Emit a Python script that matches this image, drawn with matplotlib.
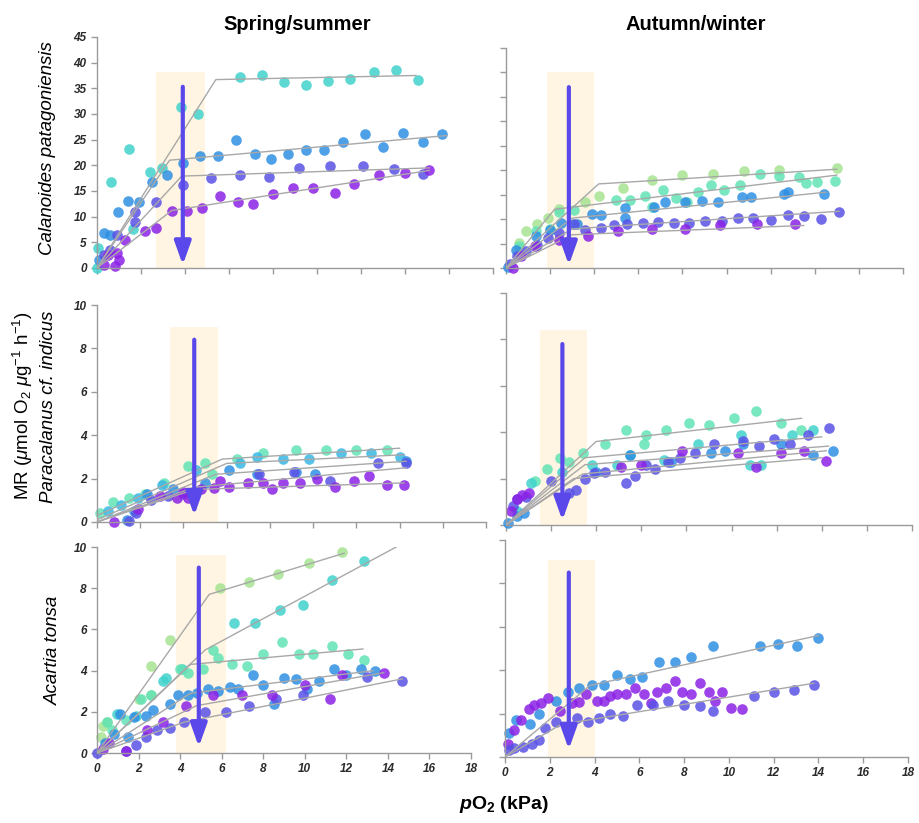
import matplotlib.pyplot as plt
from matplotlib.patches import Rectangle

plt.rcParams['font.family'] = ['Liberation Sans', 'DejaVu Sans']
plt.rcParams['mathtext.fontset'] = 'custom'
plt.rcParams['mathtext.rm'] = 'Liberation Sans'
plt.rcParams['mathtext.it'] = 'Liberation Sans:italic'
plt.rcParams['mathtext.bf'] = 'Liberation Sans:bold'

# colours of the temperature series
PURPLE = '#8B22E6'
VIOLET = '#5A52E6'
BLUE = '#2F8FE3'
CYAN = '#3AB8E3'
TURQ = '#40D2CC'
AQUA = '#62E3B5'
GREEN = '#A6E392'
SHADE = '#FFF5E2'
ARROW = '#5A48EA'
FITLINE = '#A8A8A8'

# ---- Calanoides patagoniensis, spring/summer ----
cp_ss_turq_x = [0, 0.06, 0.62, 1.47, 1.65, 2.4, 2.97, 3.8, 4.6, 6.5, 7.5, 8.5, 9.5, 10.5, 11.5, 12.6, 13.6, 14.6]
cp_ss_turq_y = [0, 3.9, 16.8, 23.2, 7.6, 18.7, 19.4, 31.4, 30.0, 37.2, 37.5, 36.2, 35.7, 36.5, 36.9, 38.2, 38.6, 36.6]
cp_ss_turq_fit = [(0, 0), (5.4, 36.7), (14.5, 37.5)]
cp_ss_blue_x = [0.1, 0.32, 0.6, 0.97, 1.42, 1.92, 2.5, 3.2, 3.9, 4.7, 5.5, 6.3, 7.2, 7.9, 8.7, 9.5, 10.3, 11.2, 12.2, 13.0, 13.9, 14.8, 15.7]
cp_ss_blue_y = [1.5, 6.8, 6.5, 10.9, 13.1, 12.9, 16.7, 18.1, 20.5, 21.8, 21.9, 24.9, 22.3, 21.3, 22.3, 22.9, 22.9, 24.5, 26.2, 23.6, 26.3, 24.5, 26.1]
cp_ss_blue_fit = [(0, 0), (3.3, 21.0), (15.9, 25.8)]
cp_ss_violet_x = [0.3, 0.6, 0.9, 1.73, 1.73, 2.7, 3.9, 5.2, 6.5, 7.8, 9.2, 10.6, 12.1, 13.5, 14.8]
cp_ss_violet_y = [2.5, 3.5, 6.4, 8.9, 11.0, 12.9, 16.2, 17.5, 18.1, 17.7, 19.4, 19.8, 19.8, 19.2, 18.4]
cp_ss_violet_fit = [(0, 0), (3.85, 17.9), (15.1, 19.5)]
cp_ss_purple_x = [0.3, 0.5, 0.8, 0.9, 1.0, 1.27, 2.2, 2.7, 3.4, 4.1, 4.75, 5.6, 6.4, 7.1, 8.0, 8.9, 9.8, 10.8, 11.7, 12.8, 14.0, 15.1]
cp_ss_purple_y = [0.5, 2.5, 0.3, 3.0, 1.5, 5.4, 7.3, 7.8, 11.2, 11.2, 11.6, 14.0, 12.8, 12.5, 14.4, 15.5, 15.5, 14.6, 16.4, 18.1, 18.5, 19.0]
cp_ss_purple_fit = [(0, 0), (3.4, 11.2), (15.1, 19.0)]

# ---- Calanoides patagoniensis, autumn/winter ----
cp_aw_green_x = [0.6, 0.9, 1.4, 1.9, 2.4, 3.6, 4.2, 5.3, 6.6, 8.0, 9.4, 10.8, 12.4, 15.0]
cp_aw_green_y = [5.2, 7.5, 9.1, 10.2, 12.1, 13.6, 14.7, 16.4, 17.9, 19.0, 19.3, 19.8, 20.1, 20.4]
cp_aw_green_fit = [(0, 0), (4.2, 17.2), (15.0, 20.2)]
cp_aw_aqua_x = [0.6, 1.35, 2.0, 2.4, 3.0, 3.1, 5.0, 5.6, 6.3, 6.6, 7.1, 7.7, 8.2, 8.7, 9.3, 9.9, 10.6, 11.5, 12.4, 13.3, 13.6, 14.1, 14.9]
cp_aw_aqua_y = [4.6, 7.5, 8.0, 11.5, 8.9, 11.9, 14.0, 14.0, 14.7, 12.5, 16.0, 14.3, 13.4, 15.5, 17.0, 15.9, 17.0, 19.3, 18.8, 18.7, 17.4, 17.5, 17.7]
cp_aw_aqua_fit = [(0, 0), (2.2, 12.0), (15.0, 19.0)]
cp_aw_blue_x = [0.1, 0.45, 1.35, 2.0, 2.5, 3.2, 3.9, 4.3, 5.4, 5.4, 6.7, 7.2, 8.1, 8.9, 9.6, 10.7, 11.1, 12.6, 12.8, 14.4]
cp_aw_blue_y = [0.3, 3.7, 6.6, 7.8, 9.3, 9.1, 11.1, 10.9, 12.3, 10.2, 12.4, 13.6, 13.6, 13.7, 13.4, 14.5, 14.6, 15.2, 15.5, 15.1]
cp_aw_blue_fit = [(0, 0), (3.0, 10.2), (14.5, 15.5)]
cp_aw_violet_x = [0.2, 0.5, 0.9, 1.4, 1.9, 2.4, 3.1, 3.6, 4.3, 4.9, 5.5, 6.2, 6.9, 7.6, 8.3, 9.0, 9.8, 10.5, 11.2, 12.0, 12.8, 13.5, 14.3, 15.1]
cp_aw_violet_y = [0.8, 2.4, 3.4, 4.8, 6.1, 7.2, 8.9, 7.8, 8.2, 8.7, 8.9, 9.3, 9.5, 9.3, 9.3, 9.7, 9.7, 10.2, 10.2, 9.9, 10.9, 10.6, 10.1, 11.4]
cp_aw_violet_fit = [(0, 0), (3.0, 8.0), (15.1, 11.6)]
cp_aw_purple_x = [0.3, 0.7, 1.3, 2.4, 3.7, 5.1, 6.6, 8.1, 9.7, 11.4, 13.1]
cp_aw_purple_y = [0.0, 2.4, 4.4, 5.7, 6.6, 7.5, 8.0, 8.0, 8.7, 9.0, 8.9]
cp_aw_purple_fit = [(0, 0), (3.0, 6.8), (13.5, 8.7)]

# ---- Paracalanus cf. indicus, spring/summer ----
pi_ss_aqua_x = [0.14, 0.76, 1.5, 2.2, 3.1, 4.2, 5.0, 5.3, 6.5, 7.7, 9.2, 10.6, 12.0, 13.4]
pi_ss_aqua_y = [0.4, 0.94, 1.1, 1.3, 1.8, 2.6, 2.7, 2.2, 2.9, 3.2, 3.3, 3.3, 3.3, 3.3]
pi_ss_aqua_fit = [(0, 0.3), (5.8, 2.9), (14.0, 3.4)]
pi_ss_cyan_x = [0.5, 1.1, 1.9, 3.0, 4.6, 6.6, 7.4, 8.6, 9.8, 11.3, 12.7, 14.0]
pi_ss_cyan_y = [0.5, 0.8, 1.1, 1.7, 2.4, 2.7, 3.0, 2.9, 2.9, 3.2, 3.2, 3.0]
pi_ss_cyan_fit = [(0, 0.1), (6.0, 2.7), (14.2, 3.1)]
pi_ss_blue_x = [1.4, 1.7, 2.3, 3.5, 5.0, 6.1, 7.4, 9.2, 10.1, 14.3]
pi_ss_blue_y = [0.1, 0.5, 1.3, 1.5, 1.8, 2.4, 2.2, 2.3, 2.2, 2.8]
pi_ss_blue_fit = [(0, 0), (5.5, 2.2), (14.3, 2.8)]
pi_ss_violet_x = [1.5, 1.8, 2.5, 3.3, 4.0, 7.5, 9.1, 10.8, 13.0, 14.3]
pi_ss_violet_y = [0.05, 0.4, 1.0, 1.2, 1.3, 2.2, 2.3, 1.9, 2.7, 2.7]
pi_ss_violet_fit = [(0, 0), (4.5, 1.6), (14.3, 2.5)]
pi_ss_purple_x = [0.8, 1.9, 2.9, 3.7, 4.0, 4.2, 4.8, 5.4, 5.7, 6.1, 7.0, 7.7, 8.1, 8.6, 9.4, 10.2, 11.0, 11.9, 12.6, 13.4, 14.2]
pi_ss_purple_y = [0.0, 0.6, 1.2, 1.1, 1.4, 1.1, 1.5, 1.55, 1.9, 1.6, 1.8, 1.8, 1.5, 1.8, 1.8, 2.0, 1.6, 1.9, 2.1, 1.7, 1.7]
pi_ss_purple_fit = [(0, 0), (4.5, 1.5), (14.2, 1.8)]

# ---- Paracalanus cf. indicus, autumn/winter ----
pi_aw_aqua_x = [1.3, 1.8, 2.4, 2.8, 3.4, 4.4, 5.3, 6.1, 6.2, 7.1, 8.1, 9.0, 10.1, 11.1, 12.2, 13.1]
pi_aw_aqua_y = [1.9, 2.4, 2.9, 2.7, 3.1, 3.5, 4.1, 3.5, 3.9, 4.1, 4.4, 4.3, 4.6, 4.9, 4.4, 4.1]
pi_aw_aqua_fit = [(0, 0), (4.0, 3.6), (13.1, 4.6)]
pi_aw_turq_x = [0.5, 1.1, 2.5, 3.8, 4.9, 5.5, 7.0, 8.5, 10.4, 10.8, 11.3, 12.7, 13.6]
pi_aw_turq_y = [0.6, 1.8, 2.3, 2.6, 2.6, 3.0, 2.8, 3.5, 3.9, 2.6, 2.6, 3.9, 4.1]
pi_aw_turq_fit = [(0, 0), (3.5, 2.9), (14.0, 3.8)]
pi_aw_blue_x = [0.1, 0.5, 0.8, 4.0, 5.5, 7.3, 9.1, 9.7, 10.5, 12.2, 13.6, 14.5]
pi_aw_blue_y = [0.1, 0.4, 0.5, 2.3, 3.0, 2.7, 3.1, 3.2, 3.5, 3.5, 3.0, 3.2]
pi_aw_blue_fit = [(0, 0), (3.5, 2.6), (14.3, 3.4)]
pi_aw_violet_x = [0.3, 0.5, 0.9, 2.0, 2.8, 3.1, 3.5, 3.9, 4.4, 5.3, 5.7, 6.2, 6.6, 7.2, 7.7, 8.4, 9.2, 10.5, 11.2, 11.9, 12.6, 13.4, 14.3]
pi_aw_violet_y = [0.8, 1.1, 1.2, 1.9, 1.4, 1.5, 2.0, 2.25, 2.3, 1.8, 2.1, 2.6, 2.4, 2.7, 2.9, 3.1, 3.5, 3.6, 3.4, 3.7, 3.5, 3.9, 4.2]
pi_aw_violet_fit = [(0, 0), (3.4, 2.2), (14.2, 3.2)]
pi_aw_purple_x = [0.2, 0.5, 0.7, 1.0, 5.1, 6.0, 7.8, 10.3, 11.1, 12.2, 13.2, 14.2]
pi_aw_purple_y = [0.6, 1.1, 1.3, 1.4, 2.5, 2.6, 3.2, 3.1, 2.5, 3.1, 3.2, 2.75]
pi_aw_purple_fit = [(0, 0), (3.0, 2.0), (14.0, 2.9)]

# ---- Acartia tonsa, spring/summer ----
at_ss_green_x = [0.2, 0.3, 0.46, 2.0, 2.6, 2.6, 3.5, 5.9, 7.3, 8.7, 10.2, 11.8]
at_ss_green_y = [0.8, 1.3, 1.5, 2.6, 2.8, 4.2, 5.5, 8.0, 8.3, 8.7, 9.2, 9.76]
at_ss_green_fit = [(0, 0), (5.4, 7.7), (11.9, 9.7)]
at_ss_turq_x = [0.95, 1.9, 3.2, 3.3, 4.1, 6.6, 7.6, 8.8, 9.9, 11.3, 12.85]
at_ss_turq_y = [1.9, 1.8, 3.5, 3.65, 4.1, 6.3, 6.3, 6.95, 7.2, 8.4, 9.3]
at_ss_turq_fit = [(0, 0), (5.2, 5.0), (14.4, 10.0)]
at_ss_aqua_x = [0.5, 0.7, 1.4, 2.1, 2.6, 4.0, 4.4, 5.1, 5.6, 5.8, 6.5, 7.2, 8.0, 8.9, 9.7, 10.4, 11.3, 12.1, 12.85]
at_ss_aqua_y = [1.5, 1.1, 1.6, 2.6, 2.8, 4.1, 3.9, 4.1, 5.0, 4.6, 4.3, 4.2, 4.8, 5.4, 4.8, 4.8, 5.2, 4.8, 4.5]
at_ss_aqua_fit = [(0, 0), (4.5, 4.3), (12.8, 5.05)]
at_ss_blue_x = [0.4, 0.8, 1.1, 1.5, 1.8, 2.35, 2.7, 3.5, 3.9, 4.4, 4.8, 5.35, 5.8, 6.4, 6.8, 7.5, 8.0, 8.5, 9.0, 9.6, 10.1, 10.7, 11.4, 12.0, 12.7, 13.4]
at_ss_blue_y = [0.5, 0.9, 1.9, 0.8, 1.75, 1.8, 2.1, 2.4, 2.8, 2.8, 2.9, 3.1, 3.0, 3.2, 3.1, 3.8, 3.3, 2.4, 3.65, 3.6, 3.1, 3.5, 4.1, 3.8, 4.1, 4.0]
at_ss_blue_fit = [(0, 0), (4.5, 2.9), (13.3, 4.0)]
at_ss_violet_x = [0.0, 1.4, 1.9, 2.35, 2.9, 3.5, 4.2, 5.2, 6.2, 7.3, 8.6, 9.9, 13.0, 14.7]
at_ss_violet_y = [0.0, 0.1, 0.4, 0.8, 1.1, 1.2, 1.5, 2.0, 2.0, 2.3, 2.6, 2.8, 3.7, 3.5]
at_ss_violet_fit = [(0, 0), (4.2, 1.5), (14.7, 3.6)]
at_ss_purple_x = [0.3, 0.6, 1.4, 2.4, 3.2, 4.3, 5.6, 7.0, 8.4, 10.0, 11.2, 11.8, 13.8]
at_ss_purple_y = [0.2, 0.5, 0.1, 1.1, 1.5, 2.3, 2.8, 2.8, 2.8, 3.3, 2.6, 3.8, 3.9]
at_ss_purple_fit = [(0, 0), (4.8, 2.3), (13.8, 3.9)]

# ---- Acartia tonsa, autumn/winter ----
at_aw_blue_x = [0.2, 0.5, 1.1, 1.5, 2.3, 2.8, 3.3, 3.9, 4.4, 5.0, 5.6, 6.1, 6.9, 7.6, 8.3, 9.3, 11.4, 12.2, 13.05, 14.0]
at_aw_blue_y = [1.1, 1.7, 1.5, 2.0, 2.6, 3.0, 3.2, 3.3, 3.3, 3.8, 3.6, 3.7, 4.4, 4.4, 4.6, 5.1, 5.1, 5.2, 5.1, 5.5]
at_aw_blue_fit = [(0, 0), (3.8, 3.3), (14.0, 5.6)]
at_aw_purple_x = [0.15, 0.4, 0.7, 1.05, 1.3, 1.6, 1.9, 2.45, 3.0, 3.3, 3.6, 4.1, 4.4, 4.7, 5.0, 5.4, 5.8, 6.2, 6.5, 6.8, 7.2, 7.6, 7.9, 8.3, 8.7, 9.1, 9.4, 9.7, 10.1, 10.6]
at_aw_purple_y = [0.6, 1.25, 1.7, 2.2, 2.4, 2.5, 2.7, 2.1, 2.5, 2.55, 2.9, 2.6, 2.6, 2.8, 2.9, 2.9, 3.2, 2.9, 2.5, 3.0, 3.2, 3.5, 3.0, 2.9, 3.4, 3.0, 2.6, 3.0, 2.25, 2.2]
at_aw_violet_x = [0.2, 0.4, 0.8, 1.2, 1.5, 1.8, 2.3, 3.2, 3.7, 4.2, 4.7, 5.25, 5.9, 6.6, 7.3, 8.0, 8.7, 9.3, 11.1, 12.0, 12.9, 13.8]
at_aw_violet_y = [0.3, 0.4, 0.45, 0.6, 0.8, 1.35, 1.6, 1.8, 1.6, 1.8, 2.0, 1.9, 2.4, 2.4, 2.6, 2.4, 2.35, 2.1, 2.8, 3.0, 3.1, 3.3]
at_aw_violet_fit = [(0, 0), (2.5, 1.5), (13.8, 3.4)]

# shaded band (x from, x to, top) and arrow (x, top, tip) per panel
cp_ss_band, cp_ss_arrow = (2.7, 4.9, 38.2), (3.9, 35.3, 0.6)
cp_aw_band, cp_aw_arrow = (1.85, 4.0, 40.0), (2.85, 37.0, 0.6)
pi_ss_band, pi_ss_arrow = (3.4, 5.6, 9.0), (4.5, 8.4, 0.3)
pi_aw_band, pi_aw_arrow = (1.5, 3.6, 8.4), (2.5, 7.8, 0.2)
at_ss_band, at_ss_arrow = (3.8, 6.2, 9.6), (4.9, 9.0, 0.3)
at_aw_band, at_aw_arrow = (1.9, 4.0, 9.1), (2.85, 8.5, 0.35)

W, H = 919, 823
fig = plt.figure(figsize=(W / 100, H / 100), dpi=100)


def panel(box, ymax, ystep, series, band, arrow, ylabels, xlabels):
    l, t, r, b = box
    ax = fig.add_axes([l / W, 1 - b / H, (r - l) / W, (b - t) / H])
    ax.set_xlim(0, 18)
    ax.set_ylim(0, ymax)
    ax.add_patch(Rectangle((band[0], 0), band[1] - band[0], band[2],
                           color=SHADE, lw=0, zorder=0))
    for x, y, c, fit in series:
        ax.scatter(x, y, s=58, color=c, alpha=0.85, lw=0, zorder=2, clip_on=False)
        if fit:
            fx, fy = zip(*fit)
            ax.plot(fx, fy, color=FITLINE, lw=1, zorder=3)
    ax.annotate('', xy=(arrow[0], arrow[2]), xytext=(arrow[0], arrow[1]),
                arrowprops=dict(arrowstyle='-|>,head_width=0.25,head_length=0.7',
                                color=ARROW, lw=3, mutation_scale=20,
                                shrinkA=0, shrinkB=0), zorder=4)
    ax.set_xticks(range(0, 19, 2))
    ax.set_yticks([v * ystep for v in range(int(ymax / ystep) + 1)])
    for s in ['top', 'right']:
        ax.spines[s].set_visible(False)
    for s in ['left', 'bottom']:
        ax.spines[s].set_color('#9A9A9A')
        ax.spines[s].set_linewidth(1)
    ax.tick_params(color='#9A9A9A', length=4, width=1, labelsize=8.5,
                   labelcolor='#2A2A2A', labelleft=ylabels, labelbottom=xlabels)
    for lab in ax.get_xticklabels() + ax.get_yticklabels():
        lab.set_fontweight('bold')
        lab.set_fontstyle('italic')
    ax.set_facecolor('none')
    return ax


panel((97, 37, 493, 268), 45, 5, [
    (cp_ss_turq_x, cp_ss_turq_y, TURQ, cp_ss_turq_fit),
    (cp_ss_blue_x, cp_ss_blue_y, BLUE, cp_ss_blue_fit),
    (cp_ss_violet_x, cp_ss_violet_y, VIOLET, cp_ss_violet_fit),
    (cp_ss_purple_x, cp_ss_purple_y, PURPLE, cp_ss_purple_fit),
], cp_ss_band, cp_ss_arrow, True, False)

panel((506, 48, 903, 268), 45, 5, [
    (cp_aw_green_x, cp_aw_green_y, GREEN, cp_aw_green_fit),
    (cp_aw_aqua_x, cp_aw_aqua_y, AQUA, cp_aw_aqua_fit),
    (cp_aw_blue_x, cp_aw_blue_y, BLUE, cp_aw_blue_fit),
    (cp_aw_violet_x, cp_aw_violet_y, VIOLET, cp_aw_violet_fit),
    (cp_aw_purple_x, cp_aw_purple_y, PURPLE, cp_aw_purple_fit),
], cp_aw_band, cp_aw_arrow, False, False)

panel((97, 305, 486, 522), 10, 2, [
    (pi_ss_aqua_x, pi_ss_aqua_y, AQUA, pi_ss_aqua_fit),
    (pi_ss_cyan_x, pi_ss_cyan_y, CYAN, pi_ss_cyan_fit),
    (pi_ss_blue_x, pi_ss_blue_y, BLUE, pi_ss_blue_fit),
    (pi_ss_violet_x, pi_ss_violet_y, VIOLET, pi_ss_violet_fit),
    (pi_ss_purple_x, pi_ss_purple_y, PURPLE, pi_ss_purple_fit),
], pi_ss_band, pi_ss_arrow, True, False)

panel((506, 293, 912, 525), 10, 2, [
    (pi_aw_aqua_x, pi_aw_aqua_y, AQUA, pi_aw_aqua_fit),
    (pi_aw_turq_x, pi_aw_turq_y, TURQ, pi_aw_turq_fit),
    (pi_aw_blue_x, pi_aw_blue_y, BLUE, pi_aw_blue_fit),
    (pi_aw_violet_x, pi_aw_violet_y, VIOLET, pi_aw_violet_fit),
    (pi_aw_purple_x, pi_aw_purple_y, PURPLE, pi_aw_purple_fit),
], pi_aw_band, pi_aw_arrow, False, False)

panel((97, 547, 471, 753), 10, 2, [
    (at_ss_green_x, at_ss_green_y, GREEN, at_ss_green_fit),
    (at_ss_turq_x, at_ss_turq_y, TURQ, at_ss_turq_fit),
    (at_ss_aqua_x, at_ss_aqua_y, AQUA, at_ss_aqua_fit),
    (at_ss_blue_x, at_ss_blue_y, BLUE, at_ss_blue_fit),
    (at_ss_violet_x, at_ss_violet_y, VIOLET, at_ss_violet_fit),
    (at_ss_purple_x, at_ss_purple_y, PURPLE, at_ss_purple_fit),
], at_ss_band, at_ss_arrow, True, True)

panel((505, 540, 908, 757), 10, 2, [
    (at_aw_blue_x, at_aw_blue_y, BLUE, at_aw_blue_fit),
    (at_aw_purple_x, at_aw_purple_y, PURPLE, None),
    (at_aw_violet_x, at_aw_violet_y, VIOLET, at_aw_violet_fit),
], at_aw_band, at_aw_arrow, False, True)

# titles and axis labels
fig.text(297 / W, 1 - 24 / H, 'Spring/summer', ha='center', va='center',
         fontsize=14.5, fontweight='bold')
fig.text(696 / W, 1 - 24 / H, 'Autumn/winter', ha='center', va='center',
         fontsize=14.5, fontweight='bold')
fig.text(48 / W, 1 - 148 / H, 'Calanoides patagoniensis', rotation=90,
         ha='center', va='center', fontsize=13.5, style='italic')
fig.text(23 / W, 1 - 406 / H, r'MR ($\mu$mol O$_2$ $\mu$g$^{-1}$ h$^{-1}$)',
         rotation=90, ha='center', va='center', fontsize=13.5)
fig.text(49 / W, 1 - 407 / H, 'Paracalanus cf. indicus', rotation=90,
         ha='center', va='center', fontsize=13.5, style='italic')
fig.text(53 / W, 1 - 650 / H, 'Acartia tonsa', rotation=90,
         ha='center', va='center', fontsize=13.5, style='italic')
fig.text(459 / W, 1 - 809 / H, 'p', ha='left', va='baseline',
         fontsize=14, fontweight='bold', style='italic')
fig.text(471 / W, 1 - 809 / H, r'O$_\mathbf{2}$ (kPa)', ha='left', va='baseline',
         fontsize=14, fontweight='bold')

fig.savefig('out.png', dpi=100)
